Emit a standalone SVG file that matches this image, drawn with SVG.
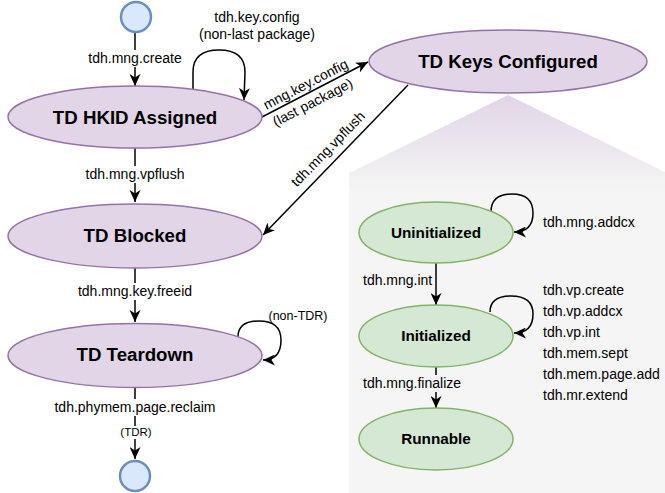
<svg xmlns="http://www.w3.org/2000/svg" width="665" height="493" viewBox="0 0 665 493">
<defs>
<linearGradient id="panelGrad" gradientUnits="userSpaceOnUse" x1="0" y1="95" x2="0" y2="190">
<stop offset="0" stop-color="#e1d5e7"/>
<stop offset="1" stop-color="#f5f5f5"/>
</linearGradient>
<marker id="arr" markerUnits="userSpaceOnUse" markerWidth="13" markerHeight="11" refX="12" refY="5.5" orient="auto" viewBox="0 0 13 11">
<path d="M0,0 L12,5.5 L0,11 L3.5,5.5 Z" fill="#000"/>
</marker>
<style>
.purple{fill:#e1d5e7;stroke:#9673a6;stroke-width:1.5}
.green{fill:#d5e8d4;stroke:#82b366;stroke-width:1.5}
.term{fill:#dae8fc;stroke:#6c8ebf;stroke-width:2.5}
.title{font-family:"Liberation Sans",Arial,sans-serif;font-weight:bold;font-size:18.7px;text-anchor:middle;fill:#000}
.gtitle{font-family:"Liberation Sans",Arial,sans-serif;font-weight:bold;font-size:15.3px;text-anchor:middle;fill:#000}
.lbl{font-family:"Liberation Sans",Arial,sans-serif;font-size:14px;fill:#000}
.mid{text-anchor:middle}
.small{font-size:11.5px}
.edge{fill:none;stroke:#000;stroke-width:1.5}
.bgw{fill:#fff}
.bgg{fill:#f5f5f5}
</style>
</defs>

<g id="panel">
<polygon points="349,173 508,95 667,173 667,493 349,493" fill="url(#panelGrad)"/>
</g>

<g id="connectors">
<path class="edge" d="M135,33 L135,86" marker-end="url(#arr)"/>
<path class="edge" d="M135,148 L135,202" marker-end="url(#arr)"/>
<path class="edge" d="M135,268 L135,322" marker-end="url(#arr)"/>
<path class="edge" d="M135,388 L135,459" marker-end="url(#arr)"/>
<path class="edge" d="M193,90 L193,72 Q193,50 219,50 Q245,50 245,72 L244,100" marker-end="url(#arr)"/>
<path class="edge" d="M262,117 L368,62" marker-end="url(#arr)"/>
<path class="edge" d="M408,85 L263,235" marker-end="url(#arr)"/>
<path class="edge" d="M238,337 Q238,321 259,321 Q281,321 281,340 Q281,360 263,360" marker-end="url(#arr)"/>
<path class="edge" d="M491,212 Q491,194 512,194 Q533,194 533,213 Q533,232 514,232" marker-end="url(#arr)"/>
<path class="edge" d="M490,312 Q490,296 511,296 Q533,296 533,314 Q533,333 514,333" marker-end="url(#arr)"/>
<path class="edge" d="M436,263 L436,305" marker-end="url(#arr)"/>
<path class="edge" d="M436,367 L436,408" marker-end="url(#arr)"/>

<rect class="bgw" x="88" y="50" width="95" height="17"/>
<text class="lbl mid" x="135" y="63">tdh.mng.create</text>
<rect class="bgw" x="85" y="166" width="100" height="17"/>
<text class="lbl mid" x="135" y="179">tdh.mng.vpflush</text>
<rect class="bgw" x="74" y="283" width="122" height="17"/>
<text class="lbl mid" x="135" y="296">tdh.mng.key.freeid</text>
<rect class="bgw" x="54" y="399" width="163" height="17"/>
<text class="lbl mid" x="135" y="412">tdh.phymem.page.reclaim</text>
<rect class="bgw" x="120" y="426" width="32" height="13"/>
<text class="lbl mid small" x="136" y="436">(TDR)</text>
<text class="lbl mid" x="257" y="22">tdh.key.config</text>
<text class="lbl mid" x="257" y="39">(non-last package)</text>
<text class="lbl mid" transform="translate(306,85) rotate(-27.4)" y="4">mng.key.config</text>
<text class="lbl mid" transform="translate(313,103) rotate(-27.4)" y="4">(last package)</text>
<text class="lbl mid" transform="translate(328.5,149.5) rotate(-45.6)" y="4">tdh.mng.vpflush</text>
<text class="lbl mid" x="298" y="320" style="font-size:12.5px">(non-TDR)</text>
<text class="lbl" x="543" y="227">tdh.mng.addcx</text>
<text class="lbl" x="363" y="285">tdh.mng.int</text>
<rect class="bgg" x="361" y="375" width="102" height="17"/>
<text class="lbl" x="363" y="388">tdh.mng.finalize</text>
<text class="lbl" x="543" y="295">tdh.vp.create</text>
<text class="lbl" x="543" y="316">tdh.vp.addcx</text>
<text class="lbl" x="543" y="337">tdh.vp.int</text>
<text class="lbl" x="543" y="358">tdh.mem.sept</text>
<text class="lbl" x="543" y="379">tdh.mem.page.add</text>
<text class="lbl" x="543" y="400">tdh.mr.extend</text>
</g>

<g id="start">
<circle class="term" cx="136" cy="17" r="15"/>
</g>
<g id="end">
<circle class="term" cx="135" cy="476" r="15"/>
</g>
<g id="hkid">
<ellipse class="purple" cx="135" cy="117" rx="127" ry="31"/>
<text class="title" x="135" y="123.5">TD HKID Assigned</text>
</g>
<g id="keys">
<ellipse class="purple" cx="508" cy="61.5" rx="139" ry="31.5"/>
<text class="title" x="508" y="68">TD Keys Configured</text>
</g>
<g id="blocked">
<ellipse class="purple" cx="135" cy="236" rx="127" ry="32"/>
<text class="title" x="135" y="242">TD Blocked</text>
</g>
<g id="teardown">
<ellipse class="purple" cx="135" cy="355.5" rx="127" ry="32"/>
<text class="title" x="135" y="361">TD Teardown</text>
</g>
<g id="uninit">
<ellipse class="green" cx="436" cy="232.5" rx="77" ry="30.5"/>
<text class="gtitle" x="436" y="238">Uninitialized</text>
</g>
<g id="init">
<ellipse class="green" cx="436" cy="336" rx="77" ry="31"/>
<text class="gtitle" x="436" y="341">Initialized</text>
</g>
<g id="runnable">
<ellipse class="green" cx="436" cy="439" rx="77" ry="31"/>
<text class="gtitle" x="436" y="444">Runnable</text>
</g>
</svg>
